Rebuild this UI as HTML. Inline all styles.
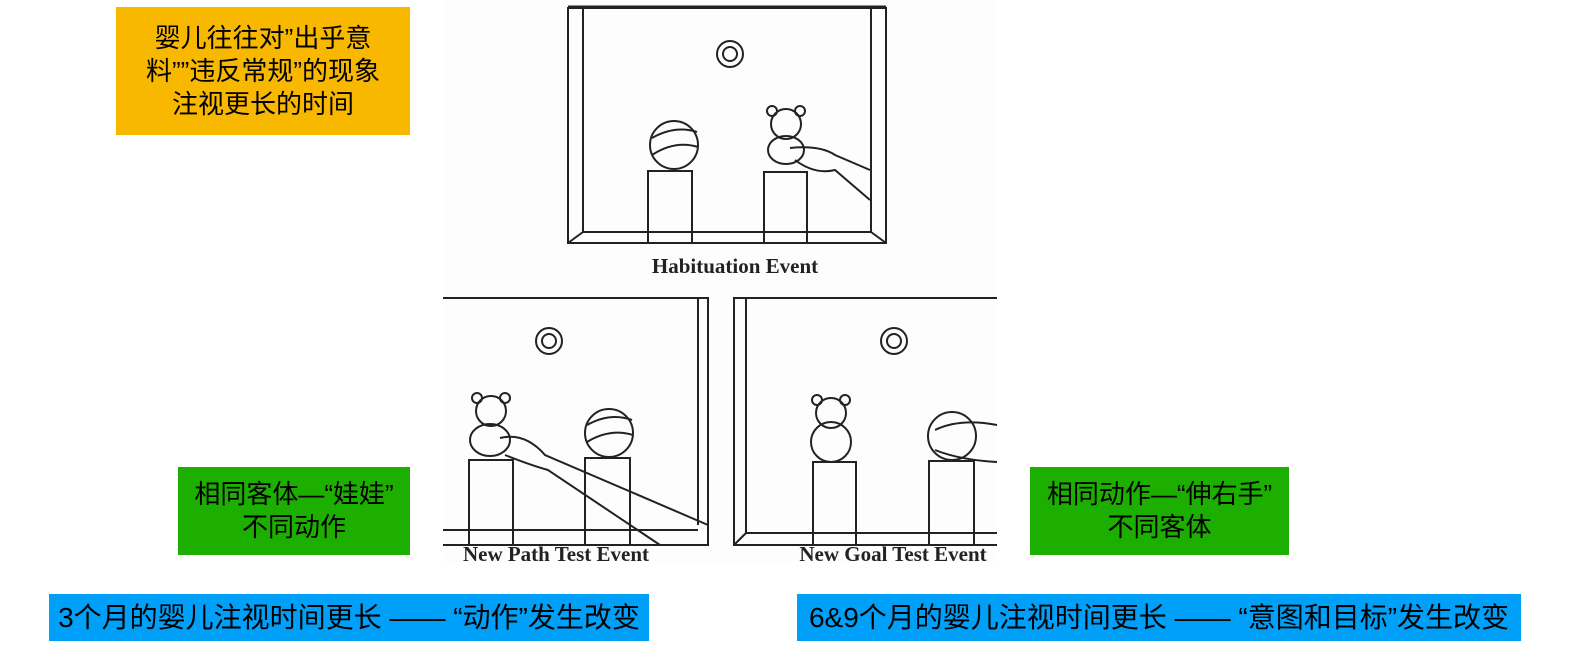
<!DOCTYPE html>
<html><head><meta charset="utf-8"><style>
html,body{margin:0;padding:0;background:#fff;}
body{width:1593px;height:663px;position:relative;overflow:hidden;font-family:"Liberation Sans","Noto Sans CJK SC",sans-serif;}
.b{position:absolute;display:flex;flex-direction:column;align-items:center;justify-content:center;text-align:center;color:#000;font-size:26px;line-height:33px;white-space:nowrap;}
.bl{font-size:28px;}
svg{position:absolute;left:0;top:0;}
</style></head><body>
<svg width="1593" height="663" viewBox="0 0 1593 663">
<rect x="443" y="0" width="554" height="562" fill="#fdfdfd"/>
<g fill="none" stroke="#222" stroke-width="2">
<rect x="568" y="8" width="318" height="235"/>
<line x1="568" y1="7" x2="886" y2="7" stroke-width="3"/>
<polyline points="583,8 583,232 871,232 871,8"/>
<line x1="568" y1="243" x2="583" y2="232"/><line x1="886" y1="243" x2="871" y2="232"/>
<circle cx="730" cy="54" r="13"/><circle cx="730" cy="54" r="7"/>
<circle cx="674" cy="145" r="24"/>
<path d="M652,138 Q675,125 697,132 M652,155 Q675,140 698,147"/>
<rect x="648" y="171" width="44" height="72"/>
<rect x="764" y="172" width="43" height="71"/>
<circle cx="786" cy="124" r="15"/><circle cx="772" cy="111" r="5"/><circle cx="800" cy="111" r="5"/>
<ellipse cx="786" cy="150" rx="18" ry="14"/>
<path d="M790,148 Q820,145 835,155 L870,170 M795,160 Q815,175 835,170 L870,200"/>
<polyline points="443,298 708,298 708,545 443,545"/>
<line x1="698" y1="298" x2="698" y2="525"/>
<line x1="443" y1="530" x2="698" y2="530"/>
<circle cx="549" cy="341" r="13"/><circle cx="549" cy="341" r="7"/>
<circle cx="609" cy="433" r="24"/>
<path d="M587,425 Q610,412 632,420 M587,442 Q610,428 633,435"/>
<rect x="469" y="460" width="44" height="85"/>
<rect x="585" y="458" width="45" height="87"/>
<circle cx="491" cy="411" r="15"/><circle cx="477" cy="398" r="5"/><circle cx="505" cy="398" r="5"/>
<ellipse cx="490" cy="440" rx="20" ry="16"/>
<path d="M500,438 Q525,432 545,455 L708,525 M505,455 Q530,465 548,470 L660,545"/>
<polyline points="997,298 734,298 734,545 997,545"/>
<line x1="746" y1="298" x2="746" y2="533"/>
<line x1="746" y1="533" x2="997" y2="533"/>
<line x1="734" y1="545" x2="746" y2="533"/>
<circle cx="894" cy="341" r="13"/><circle cx="894" cy="341" r="7"/>
<circle cx="831" cy="413" r="15"/><circle cx="817" cy="400" r="5"/><circle cx="845" cy="400" r="5"/>
<ellipse cx="831" cy="442" rx="20" ry="20"/>
<rect x="813" y="462" width="43" height="83"/>
<circle cx="952" cy="436" r="24"/>
<path d="M935,430 Q960,418 997,425 M935,450 Q960,460 997,462"/>
<rect x="929" y="461" width="45" height="84"/>
</g>
<g font-family="Liberation Serif,serif" font-size="21" font-weight="bold" fill="#222" text-anchor="middle">
<text x="735" y="273">Habituation Event</text>
<text x="556" y="561">New Path Test Event</text>
<text x="893" y="561">New Goal Test Event</text>
</g>
</svg>
<div class="b" style="left:116px;top:7px;width:294px;height:128px;background:#F9B800;">婴儿往往对”出乎意<br>料””违反常规”的现象<br>注视更长的时间</div>
<div class="b" style="left:178px;top:467px;width:232px;height:88px;background:#1DAF00;">相同客体—“娃娃”<br>不同动作</div>
<div class="b" style="left:1030px;top:467px;width:259px;height:88px;background:#1DAF00;">相同动作—“伸右手”<br>不同客体</div>
<div class="b bl" style="left:49px;top:594px;width:600px;height:47px;background:#00A0F8;">3个月的婴儿注视时间更长 —— “动作”发生改变</div>
<div class="b bl" style="left:797px;top:594px;width:724px;height:47px;background:#00A0F8;">6&amp;9个月的婴儿注视时间更长 —— “意图和目标”发生改变</div>
</body></html>
